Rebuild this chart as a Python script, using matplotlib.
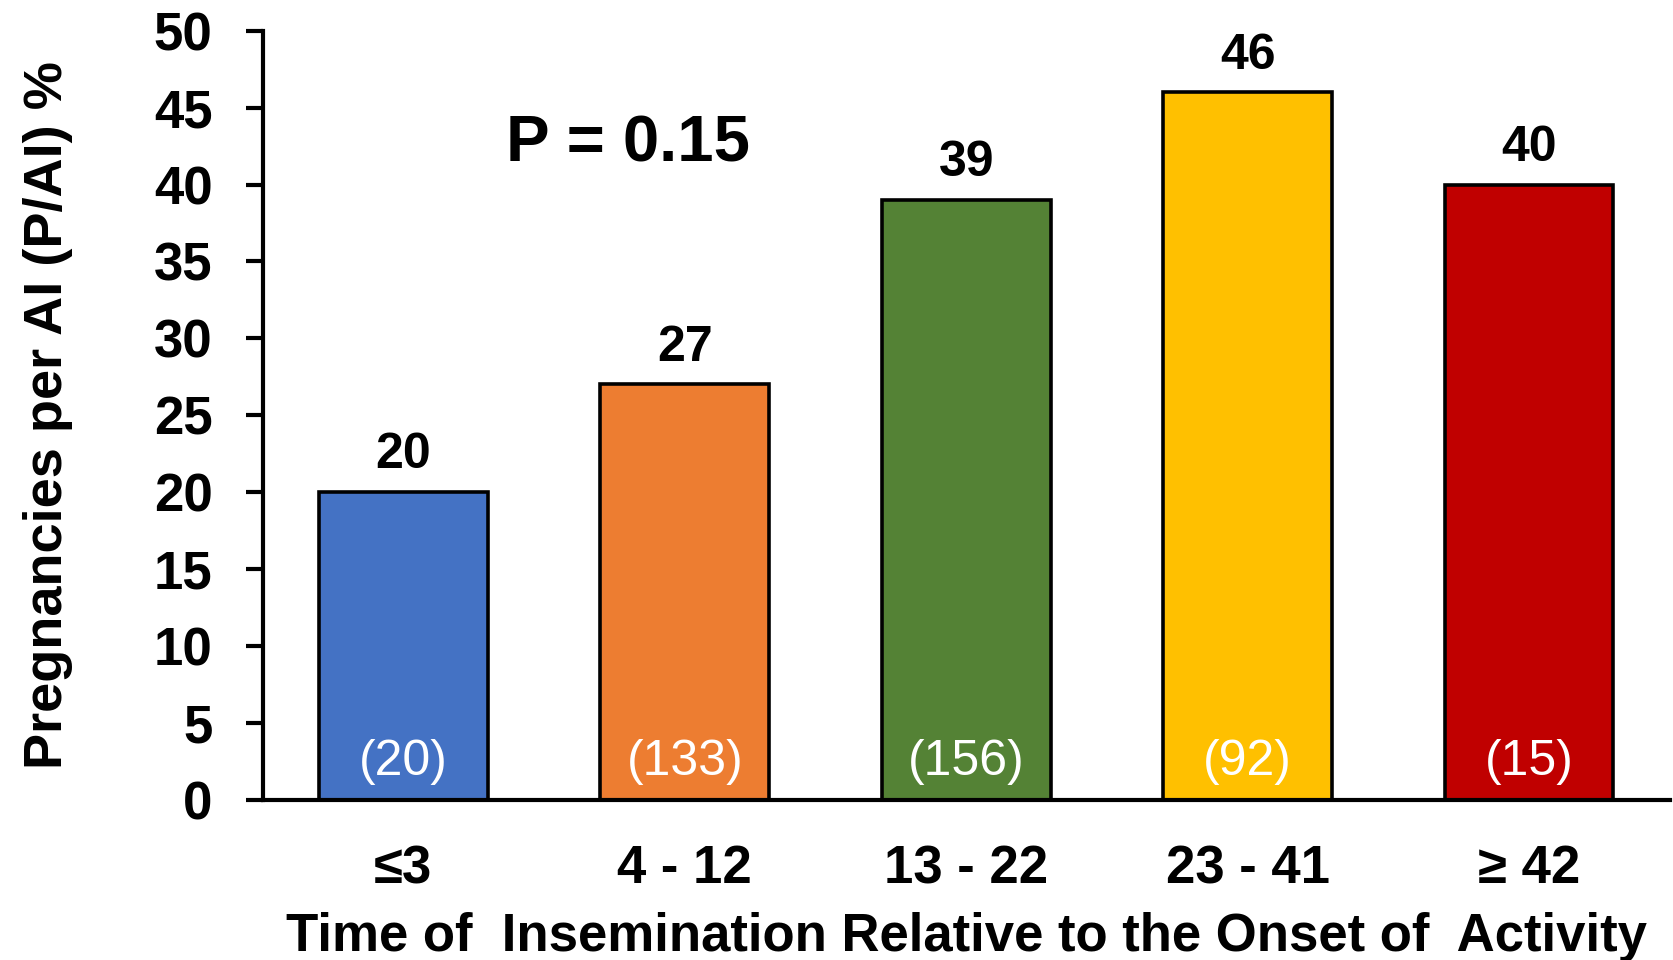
import matplotlib
matplotlib.use("Agg")
import matplotlib.pyplot as plt

plt.rcParams['font.family'] = ['Liberation Sans', 'DejaVu Sans']

# data
groups = ['≤3', '4 - 12', '13 - 22', '23 - 41', '≥ 42']
pregnancy_rate = [20, 27, 39, 46, 40]
counts = [20, 133, 156, 92, 15]
colors = ['#4472C4', '#ED7D31', '#548235', '#FFC000', '#C00000']

fig = plt.figure(figsize=(16.73, 9.6), dpi=100)
ax = fig.add_axes([0.157, 0.167, 0.841, 0.801])

x = range(len(groups))
ax.bar(x, pregnancy_rate, width=0.6, color=colors,
       edgecolor='black', linewidth=2.6, zorder=2)

# values above bars
for xi, v in zip(x, pregnancy_rate):
    ax.annotate(str(v), (xi, v), xytext=(0, 17), textcoords='offset points',
                ha='center', va='baseline', fontsize=36, fontweight='bold')

# number of cows inside bars
for xi, n in zip(x, counts):
    ax.text(xi, 1.6, f'({n})', ha='center', va='baseline',
            fontsize=36, color='white', fontweight='medium')

ax.text(0.8, 41.5, 'P = 0.15', ha='center', va='baseline',
        fontsize=47, fontweight='bold')

ax.set_xlim(-0.5, 4.5)
ax.set_ylim(0, 50)
ax.set_yticks(range(0, 51, 5))
ax.set_xticks(list(x))
ax.set_xticklabels(groups)

for s in ['top', 'right']:
    ax.spines[s].set_visible(False)
for s in ['left', 'bottom']:
    ax.spines[s].set_linewidth(3)

ax.tick_params(axis='y', direction='out', length=12, width=3, pad=24,
               labelsize=38)
ax.tick_params(axis='x', length=0, pad=32, labelsize=38)
for lab in ax.get_xticklabels() + ax.get_yticklabels():
    lab.set_fontweight('bold')

ax.set_ylabel('Pregnancies per AI (P/AI) %', fontsize=39, fontweight='bold',
              labelpad=58)
ax.set_xlabel('Time of  Insemination Relative to the Onset of  Activity',
              fontsize=38, fontweight='bold', labelpad=13)

fig.savefig('out.png', dpi=100)
